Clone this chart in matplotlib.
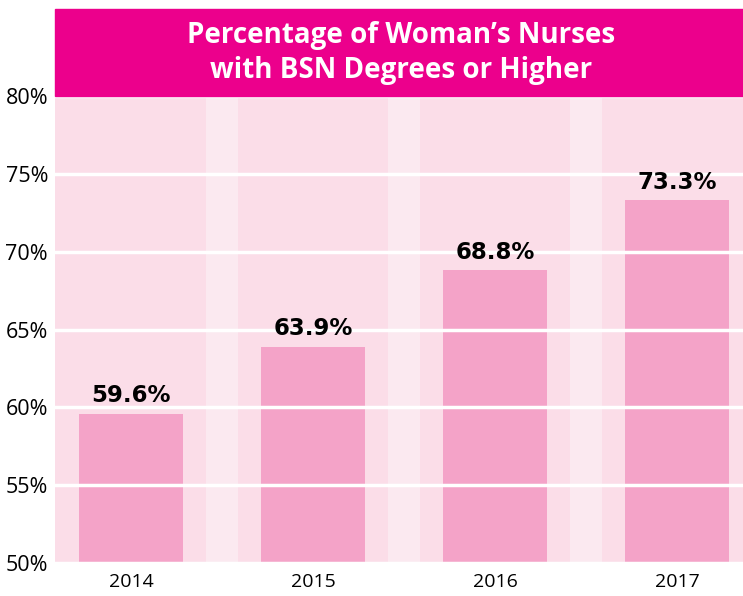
import matplotlib
matplotlib.use("Agg")
import matplotlib.pyplot as plt
from matplotlib.patches import Rectangle

# chart data
years = ["2014", "2015", "2016", "2017"]
pct = [59.6, 63.9, 68.8, 73.3]
yticks = [50, 55, 60, 65, 70, 75, 80]

TITLE_PINK = "#EC008C"
BG_PINK = "#FBDDE8"
BAND_PINK = "#FBE9F0"
BAR_PINK = "#F4A3C8"

plt.rcParams['font.family'] = ['Open Sans', 'DejaVu Sans']

fig = plt.figure(figsize=(7.43, 5.96), dpi=100)
ax = fig.add_axes([55 / 743, 33 / 596, 688 / 743, 467 / 596])
ax.set_facecolor(BG_PINK)

x = list(range(len(years)))

# lighter bands between categories
for i in range(len(years) - 1):
    ax.axvspan(i + 0.5 - 0.09, i + 0.5 + 0.09, color=BAND_PINK, zorder=0.5, lw=0)

ax.set_yticks(yticks)
ax.set_yticklabels([f"{t}%" for t in yticks], fontsize=15.5)
ax.grid(axis='y', color='white', linewidth=2.5, zorder=1)
ax.set_axisbelow(False)

bars = ax.bar(x, [p - 50 for p in pct], bottom=50, width=0.57, color=BAR_PINK, zorder=2)
for xi, p in zip(x, pct):
    ax.text(xi, p + 0.4, f"{p:.1f}%", ha='center', va='bottom', fontsize=16.5,
            fontweight='bold', family='DejaVu Sans', color='black', zorder=3)

ax.set_xticks(x)
ax.set_xticklabels(years, fontsize=14)
ax.set_xlim(-0.418, 3.363)
ax.set_ylim(50, 80)
ax.tick_params(axis='y', length=0, pad=5)
ax.tick_params(axis='x', length=0, pad=7)
for s in ax.spines.values():
    s.set_visible(False)

# title bar
fig.patches.append(Rectangle((55 / 743, 1 - 96 / 596), 688 / 743, 87 / 596,
                             transform=fig.transFigure, color=TITLE_PINK, zorder=0))
fig.text(401 / 743, 1 - 53 / 596, "Percentage of Woman\u2019s Nurses\nwith BSN Degrees or Higher",
         ha='center', va='center', color='white', fontsize=20, fontweight='bold',
         linespacing=1.25)

fig.savefig("out.png", dpi=100)
